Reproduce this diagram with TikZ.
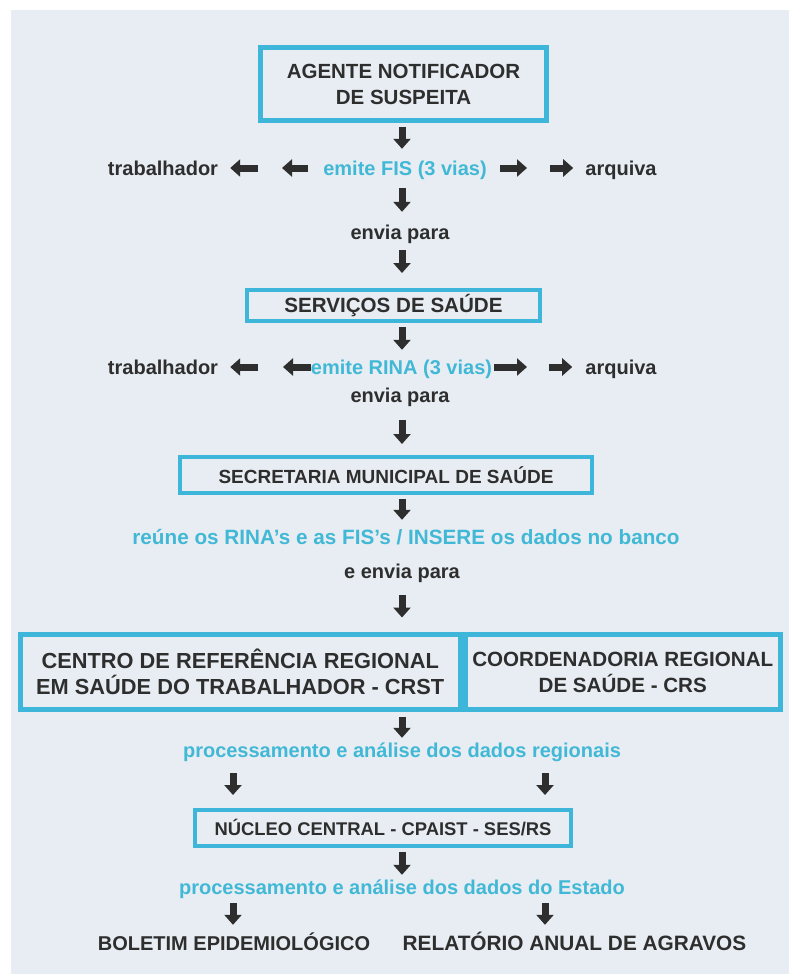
\documentclass[tikz,border=0pt]{standalone}
\usepackage{fontspec}
\setmainfont{Liberation Sans}
\usepackage{tikz}
\usetikzlibrary{arrows.meta}
\usetikzlibrary{positioning}
\definecolor{panel}{HTML}{E7EDF2}
\definecolor{boxcyan}{HTML}{3DB6D9}
\definecolor{textcyan}{HTML}{41B8D6}
\definecolor{ink}{HTML}{2E2E2E}
\newcommand{\capsize}[1]{\fontsize{#1}{26}\selectfont\bfseries}
\tikzstyle{every node}+=[inner sep=0pt]
\tikzstyle{block} = [rectangle, draw=boxcyan, line width=4pt, text=ink, font=\capsize{19}, align=center]
\tikzstyle{word} = [text=ink, font=\fontsize{20}{24}\selectfont\bfseries, text height=14pt, text depth=0pt]
\tikzstyle{action} = [word, text=textcyan]
\tikzstyle{line} = [draw=ink, line width=7pt, -{Triangle[width=17pt,length=10pt]}]

\begin{document}
\begin{tikzpicture}[x=1pt, y=-1pt]
          \useasboundingbox (0,0) rectangle (789,975);
          \fill [panel] (11,10) rectangle (789,974);
          % Place boxes
          \node [block, line width=5pt, font=\capsize{20.5}, minimum width=286pt, minimum height=73pt] (agente) at (403.5,84) {AGENTE NOTIFICADOR\\DE SUSPEITA};
          \node [block, font=\capsize{20.6}, minimum width=293pt, minimum height=31pt] (servicos) at (393.5,305.5) {SERVIÇOS DE SAÚDE};
          \node [block, minimum width=412pt, minimum height=36pt] (sms) at (386,475) {SECRETARIA MUNICIPAL DE SAÚDE};
          \node [block, line width=5pt, font=\capsize{21.8}, minimum width=439.5pt, minimum height=75pt] (crst) at (240.25,672) {CENTRO DE REFERÊNCIA REGIONAL\\EM SAÚDE DO TRABALHADOR - CRST};
          \node [block, line width=5pt, font=\capsize{20.6}, minimum width=315.5pt, minimum height=75pt] (crs) at (622.75,672) {COORDENADORIA REGIONAL\\DE SAÚDE - CRS};
          \node [block, font=\capsize{18.4}, minimum width=376pt, minimum height=36pt] (nucleo) at (383,828) {NÚCLEO CENTRAL - CPAIST - SES/RS};
          % Place texts
          \node [word] (trab1) at (163,168) {trabalhador};
          \node [action] (fis) at (405,168) {emite FIS (3 vias)};
          \node [word] (arq1) at (621,168) {arquiva};
          \node [word] (envia1) at (400,232) {envia para};
          \node [word] (trab2) at (163,367) {trabalhador};
          \node [action] (rina) at (401.5,367) {emite RINA (3 vias)};
          \node [word] (arq2) at (621,367) {arquiva};
          \node [word] (envia2) at (400,395) {envia para};
          \node [action, font=\fontsize{20.7}{24}\selectfont\bfseries] (reune) at (406,537) {reúne os RINA’s e as FIS’s / INSERE os dados no banco};
          \node [word] (envia3) at (402,571) {e envia para};
          \node [action] (regionais) at (402,750) {processamento e análise dos dados regionais};
          \node [action] (estado) at (402,887) {processamento e análise dos dados do Estado};
          \node [word] (boletim) at (234,943) {BOLETIM EPIDEMIOLÓGICO};
          \node [word, font=\fontsize{20.8}{24}\selectfont\bfseries] (relatorio) at (574.5,943) {RELATÓRIO ANUAL DE AGRAVOS};
          % Arrow columns and halfway points
          \coordinate (xm) at (402,0);
          \coordinate (xl) at (233,0);
          \coordinate (xr) at (545,0);
          \coordinate (ml1) at (270,168);
          \coordinate (mr1) at (538,168);
          \coordinate (ml2) at (270,367);
          \coordinate (mr2) at (538,367);
          % Draw edges
          \path [line, shorten <=3.5pt, shorten >=12pt] (xm |- agente.south) -- (xm |- fis.north);
          \path [line, shorten <=15pt, shorten >=12pt] (fis.west) -- (ml1);
          \path [line, shorten <=12pt, shorten >=12pt] (ml1) -- (trab1.east);
          \path [line, shorten <=13pt, shorten >=11pt] (fis.east) -- (mr1);
          \path [line, shorten <=12pt, shorten >=12pt] (mr1) -- (arq1.west);
          \path [line, shorten <=13pt, shorten >=13pt] (xm |- fis.south) -- (xm |- envia1.north);
          \path [line, shorten <=11pt, shorten >=15pt] (xm |- envia1.south) -- (xm |- servicos.north);
          \path [line, shorten <=4pt, shorten >=10pt] (xm |- servicos.south) -- (xm |- rina.north);
          \path [line, shorten <=0pt, shorten >=13pt] (rina.west) -- (ml2);
          \path [line, shorten <=12pt, shorten >=12pt] (ml2) -- (trab2.east);
          \path [line, shorten <=2pt, shorten >=11pt] (rina.east) -- (mr2);
          \path [line, shorten <=11pt, shorten >=13pt] (mr2) -- (arq2.west);
          \path [line, shorten <=18pt, shorten >=11pt] (xm |- envia2.south) -- (xm |- sms.north);
          \path [line, shorten <=4pt, shorten >=10pt] (xm |- sms.south) -- (xm |- reune.north);
          \path [line, shorten <=17pt, shorten >=14.5pt] (xm |- envia3.south) -- (xm |- crst.north);
          \path [line, shorten <=4.5pt, shorten >=5pt] (xm |- crst.south) -- (xm |- regionais.north);
          \path [line, shorten <=16pt, shorten >=13pt] (xl |- regionais.south) -- (xl |- nucleo.north);
          \path [line, shorten <=16pt, shorten >=13pt] (xr |- regionais.south) -- (xr |- nucleo.north);
          \path [line, shorten <=4pt, shorten >=5pt] (xm |- nucleo.south) -- (xm |- estado.north);
          \path [line, shorten <=9pt, shorten >=11pt] (xl |- estado.south) -- (xl |- boletim.north);
          \path [line, shorten <=9pt, shorten >=11pt] (xr |- estado.south) -- (xr |- relatorio.north);
        \end{tikzpicture}
\end{document}
